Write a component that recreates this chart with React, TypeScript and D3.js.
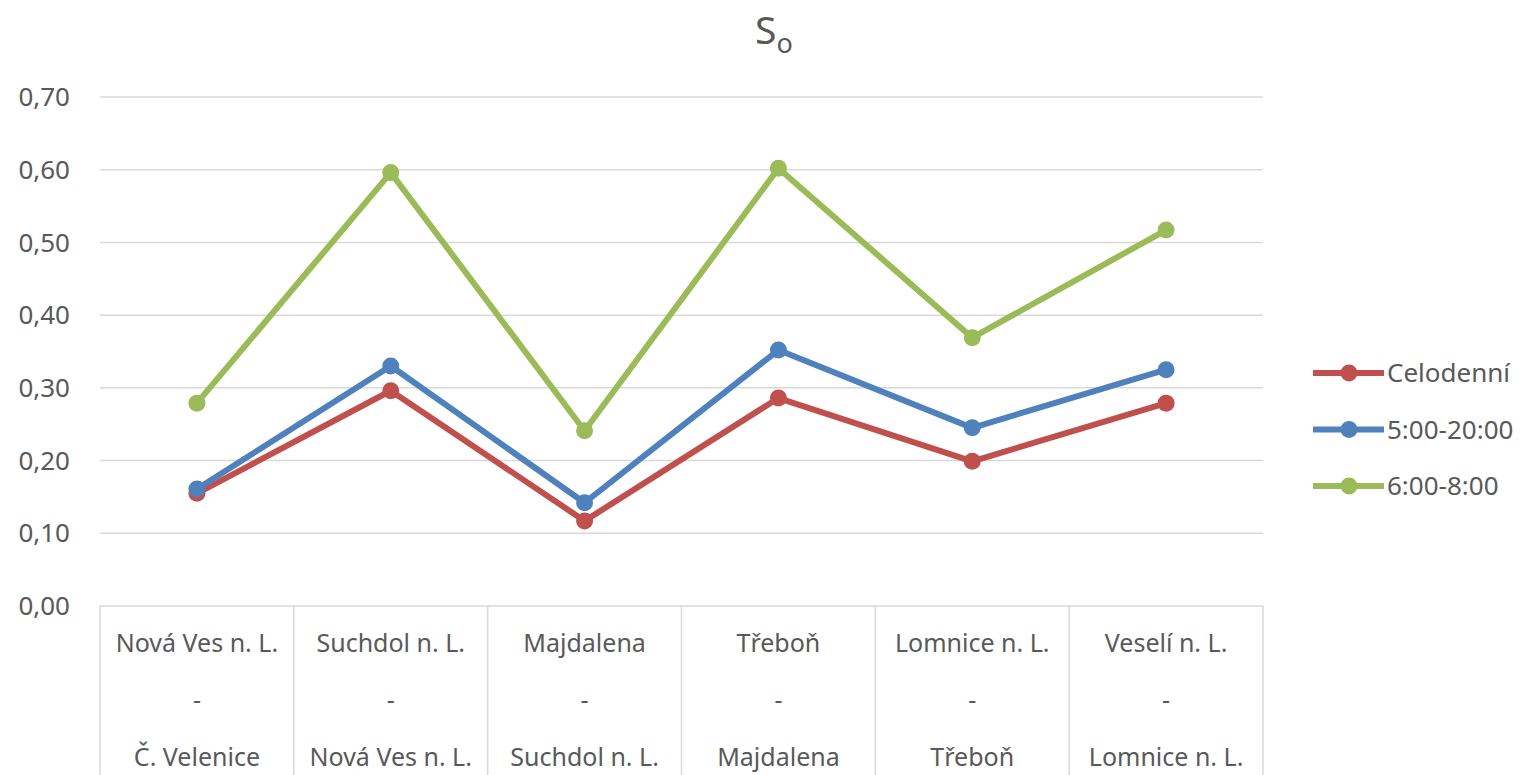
import React from "react";
import * as d3 from "d3";

const categories: string[][] = [
  ["Nová Ves n. L.", "-", "Č. Velenice"],
  ["Suchdol n. L.", "-", "Nová Ves n. L."],
  ["Majdalena", "-", "Suchdol n. L."],
  ["Třeboň", "-", "Majdalena"],
  ["Lomnice n. L.", "-", "Třeboň"],
  ["Veselí n. L.", "-", "Lomnice n. L."],
];
const celodenni = [0.155, 0.296, 0.117, 0.286, 0.199, 0.279];
const den = [0.161, 0.33, 0.142, 0.352, 0.245, 0.325];
const spicka = [0.279, 0.596, 0.241, 0.602, 0.369, 0.517];
const yTicks = [0, 0.1, 0.2, 0.3, 0.4, 0.5, 0.6, 0.7];
const seriesNames = ["Celodenní", "5:00-20:00", "6:00-8:00"];
const seriesColors = ["#C0504D", "#4F81BD", "#9BBB59"];

export default function App() {
  const W = 1526, H = 775;
  const left = 100, right = 1263, top = 97, bottom = 606;
  const x = d3.scaleBand<number>().domain(d3.range(categories.length)).range([left, right]);
  const y = d3.scaleLinear().domain([0, 0.7]).range([bottom, top]);
  const line = d3.line<number>().x((_, i) => x(i)! + x.bandwidth() / 2).y((d) => y(d));
  const series = [celodenni, den, spicka];
  const font = "'Noto Sans', 'Open Sans', sans-serif";
  const fmt = (v: number) => v.toFixed(2).replace(".", ",");
  return (
    <svg width={W} height={H} style={{ position: "absolute", left: 0, top: 0 }} fontFamily={font}>
      <rect width={W} height={H} fill="#fff" />
      <text x={755} y={44} textAnchor="start" fontSize={39} fill="#595959">
        S<tspan fontSize={27} dy={9}>o</tspan>
      </text>
      {yTicks.map((t) => (
        <g key={t}>
          <line x1={left} x2={right} y1={y(t)} y2={y(t)} stroke="#d9d9d9" strokeWidth={1.5} />
          <text x={70} y={y(t)} dy="0.35em" textAnchor="end" fontSize={26} fill="#595959">
            {fmt(t)}
          </text>
        </g>
      ))}
      {d3.range(categories.length + 1).map((i) => {
        const xx = i < categories.length ? x(i)! : right;
        return <line key={i} x1={xx} x2={xx} y1={bottom} y2={H} stroke="#d9d9d9" strokeWidth={1.5} />;
      })}
      {categories.map((c, i) =>
        c.map((s, j) => (
          <text key={i + "-" + j} x={x(i)! + x.bandwidth() / 2} y={643 + j * 57} dy="0.35em" textAnchor="middle" fontSize={25} fill="#595959">
            {s}
          </text>
        ))
      )}
      {series.map((s, k) => (
        <g key={k}>
          <path d={line(s)!} fill="none" stroke={seriesColors[k]} strokeWidth={6} strokeLinejoin="round" />
          {s.map((v, i) => (
            <circle key={i} cx={x(i)! + x.bandwidth() / 2} cy={y(v)} r={8.5} fill={seriesColors[k]} />
          ))}
        </g>
      ))}
      {seriesNames.map((n, k) => {
        const ly = 373 + k * 56.5;
        return (
          <g key={n}>
            <line x1={1313} x2={1384} y1={ly} y2={ly} stroke={seriesColors[k]} strokeWidth={6} />
            <circle cx={1349} cy={ly} r={8.5} fill={seriesColors[k]} />
            <text x={1387} y={ly} dy="0.35em" fontSize={26} fill="#595959">{n}</text>
          </g>
        );
      })}
    </svg>
  );
}
